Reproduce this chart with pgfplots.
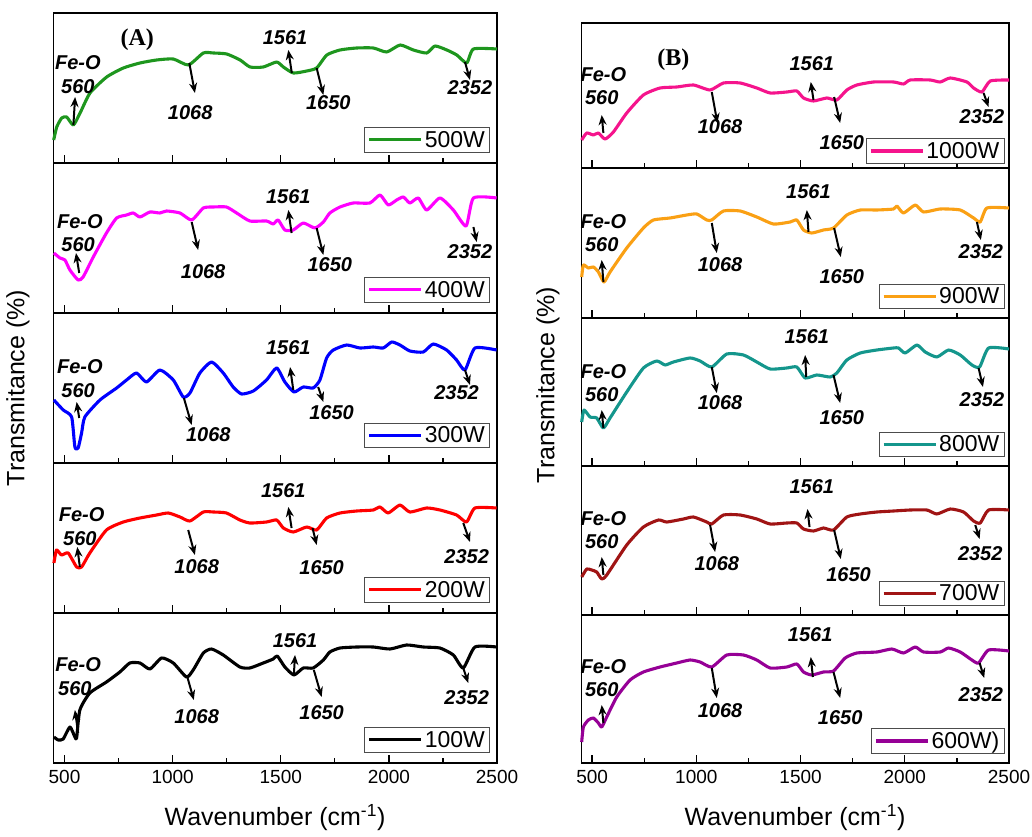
\documentclass[border=0pt]{standalone}
\usepackage{fontspec}
\setmainfont{Liberation Sans}
\newfontfamily\timesfont{Liberation Serif}
\usepackage{pgfplots}
\pgfplotsset{compat=1.18}
\usetikzlibrary{arrows.meta}
\definecolor{colA}{RGB}{30,150,30}
\definecolor{colB}{RGB}{255,0,255}
\definecolor{colC}{RGB}{0,0,255}
\definecolor{colD}{RGB}{255,0,0}
\definecolor{colE}{RGB}{245,20,140}
\definecolor{colF}{RGB}{250,160,20}
\definecolor{colG}{RGB}{20,150,140}
\definecolor{colH}{RGB}{160,20,20}
\definecolor{colI}{RGB}{150,0,150}
\newcommand\annot{\fontsize{20}{22}\selectfont\bfseries\itshape}
\newcommand\lab[3]{\node[font=\annot] at (axis cs:#1,#2) {#3};}
\newcommand\arr[4]{\draw[-{Stealth[length=10pt,width=8pt]}, line width=2pt] (axis cs:#1,#2) -- (axis cs:#3,#4);}
\pgfplotsset{
 panel/.style={scale only axis, anchor=south west, xmin=450, xmax=2500, ymin=0,
   ytick=\empty, xtick={500,1000,1500,2000,2500}, minor xtick={750,1250,1750,2250},
   xtick pos=left, tick align=inside, major tick length=8pt, minor tick length=5pt,
   axis line style={line width=1.4pt}, every tick/.append style={line width=1.3pt, black},
   xticklabels=\empty, clip=false,
   xticklabel style={font=\fontsize{19}{21}\selectfont, yshift=-4pt},
   legend style={font=\fontsize{23}{25}\selectfont, draw=black!70, line width=0.9pt, inner xsep=3pt, inner ysep=1.5pt},
   legend image code/.code={\draw[##1, line width=3.2pt] (0pt,0pt) -- (52pt,0pt);},
   every axis plot/.append style={line width=3.1pt, line join=round, smooth, tension=0.35}},
 lpanel/.style={panel, width=443.3pt, legend style={at={(0.985,0.07)}, anchor=south east}},
 rpanel/.style={panel, width=427.3pt, legend style={at={(0.99,0.06)}, anchor=south east}},
}
\begin{document}
\begin{tikzpicture}
\useasboundingbox (0,0) rectangle (1032pt,836pt);
% ---------------- left group ----------------
% 500W
\begin{axis}[lpanel, at={(53.7pt,673pt)}, height=150pt, ymax=150]
\addplot[color=colA] coordinates {(450,23)(464,36)(487,45)(510,46)(541,38)(572,50)(618,70)(695,86)(772,95)(849,100)(926,103)(1003,104)(1073,98)(1142,110)(1188,110)(1250,109)(1312,103)(1358,96)(1419,96)(1481,101)(1512,96)(1558,90)(1620,92)(1666,95)(1713,108)(1774,113)(1851,115)(1928,115)(1990,111)(2052,118)(2113,113)(2175,110)(2213,117)(2268,113)(2314,108)(2360,100)(2391,114)(2500,114)};
\addlegendentry{500W}
\node[font=\timesfont\fontsize{24}{26}\selectfont\bfseries] at (axis cs:836,123) {(A)};
\lab{562}{100}{Fe-O}\lab{562}{76}{560}\arr{541}{38}{549}{66}
\lab{1081}{50}{1068}\arr{1077}{100}{1103}{70}
\lab{1520}{125}{1561}\arr{1551}{90}{1535}{113}
\lab{1720}{60}{1650}\arr{1666}{95}{1697}{68}
\lab{2375}{75}{2352}\arr{2352}{101}{2375}{83}
\end{axis}
% 400W
\begin{axis}[lpanel, at={(53.7pt,523pt)}, height=150pt, ymax=150]
\addplot[color=colB] coordinates {(451,60)(479,55)(502,53)(525,43)(563,33)(586,36)(633,56)(694,80)(741,95)(787,98)(818,100)(849,96)(895,101)(941,100)(972,102)(1034,100)(1088,93)(1142,105)(1188,106)(1249,106)(1296,100)(1357,92)(1434,92)(1465,89)(1488,93)(1519,83)(1558,83)(1604,90)(1658,85)(1697,91)(1727,100)(1774,106)(1835,110)(1912,110)(1959,118)(1997,108)(2036,113)(2067,116)(2097,110)(2136,115)(2175,103)(2236,115)(2298,103)(2357,87)(2391,115)(2498,115)};
\addlegendentry{400W}
\lab{571}{91}{Fe-O}\lab{563}{68}{560}\arr{568}{40}{553}{60}
\lab{1141}{41}{1068}\arr{1088}{91}{1118}{63}
\lab{1535}{116}{1561}\arr{1550}{80}{1535}{103}
\lab{1727}{48}{1650}\arr{1666}{85}{1697}{58}
\lab{2375}{61}{2352}\arr{2391}{86}{2406}{71}
\end{axis}
% 300W
\begin{axis}[lpanel, at={(53.7pt,373pt)}, height=150pt, ymax=150, legend style={at={(0.985,0.1)}}]
\addplot[color=colC] coordinates {(451,63)(494,53)(533,46)(548,16)(563,15)(579,30)(594,46)(664,63)(741,75)(787,83)(833,90)(879,81)(941,93)(1003,83)(1049,66)(1080,70)(1126,90)(1180,101)(1234,90)(1280,76)(1319,69)(1373,72)(1434,83)(1481,95)(1519,81)(1561,71)(1604,76)(1650,75)(1681,83)(1712,105)(1743,113)(1805,118)(1866,115)(1928,116)(1974,115)(2013,121)(2051,118)(2097,112)(2159,111)(2205,119)(2267,113)(2313,103)(2352,93)(2398,115)(2498,113)};
\addlegendentry{300W}
\lab{571}{96}{Fe-O}\lab{563}{72}{560}\arr{568}{45}{556}{61}
\lab{1165}{28}{1068}\arr{1052}{65}{1088}{38}
\lab{1535}{115}{1561}\arr{1558}{73}{1543}{96}
\lab{1735}{50}{1650}\arr{1673}{76}{1697}{61}
\lab{2313}{70}{2352}\arr{2352}{93}{2375}{78}
\end{axis}
% 200W
\begin{axis}[lpanel, at={(53.7pt,223pt)}, height=150pt, ymax=150]
\addplot[color=colD] coordinates {(451,50)(463,63)(486,58)(517,60)(556,46)(579,46)(617,60)(694,83)(772,91)(849,95)(926,98)(980,100)(1034,96)(1080,92)(1142,101)(1188,101)(1249,100)(1311,93)(1357,90)(1434,91)(1481,93)(1512,85)(1558,81)(1620,86)(1666,83)(1712,95)(1774,100)(1851,102)(1928,103)(1959,106)(1997,100)(2051,108)(2097,101)(2175,105)(2236,103)(2313,98)(2359,91)(2398,105)(2498,105)};
\addlegendentry{200W}
\lab{579}{98}{Fe-O}\lab{571}{74}{560}\arr{571}{46}{559}{66}
\lab{1111}{46}{1068}\arr{1072}{83}{1103}{58}
\lab{1512}{122}{1561}\arr{1550}{85}{1535}{106}
\lab{1689}{45}{1650}\arr{1647}{85}{1666}{68}
\lab{2360}{56}{2352}\arr{2344}{90}{2375}{71}
\end{axis}
% 100W
\begin{axis}[lpanel, at={(53.7pt,73pt)}, height=150pt, ymax=150, xticklabels={500,1000,1500,2000,2500}]
\addplot[color=black] coordinates {(451,26)(471,23)(494,24)(525,36)(548,26)(556,25)(571,53)(617,70)(694,81)(756,91)(802,100)(849,100)(895,94)(949,105)(1003,100)(1064,86)(1095,93)(1142,110)(1180,114)(1234,108)(1311,96)(1357,95)(1419,100)(1465,104)(1484,107)(1519,96)(1561,88)(1604,95)(1650,95)(1697,103)(1727,111)(1774,115)(1851,116)(1928,116)(2005,114)(2082,118)(2159,116)(2236,115)(2298,108)(2344,95)(2398,116)(2498,116)};
\addlegendentry{100W}
\lab{563}{98}{Fe-O}\lab{548}{74}{560}\arr{563}{30}{548}{53}
\lab{1111}{46}{1068}\arr{1068}{86}{1098}{63}
\lab{1566}{122}{1561}\arr{1561}{90}{1566}{108}
\lab{1689}{50}{1650}\arr{1653}{93}{1689}{66}
\lab{2360}{65}{2352}\arr{2344}{95}{2367}{80}
\end{axis}
% ---------------- right group ----------------
% 1000W
\begin{axis}[rpanel, at={(581.7pt,668pt)}, height=145pt, ymax=145, legend style={at={(0.99,0.03)}}]
\addplot[color=colE] coordinates {(450,28)(474,35)(506,33)(530,35)(562,29)(602,36)(666,55)(746,73)(826,80)(906,81)(986,83)(1066,78)(1130,85)(1210,85)(1290,80)(1354,75)(1434,76)(1482,77)(1514,70)(1562,67)(1626,70)(1674,68)(1722,78)(1770,83)(1850,86)(1946,86)(1994,84)(2026,88)(2122,88)(2170,86)(2218,90)(2298,86)(2330,80)(2370,76)(2410,87)(2500,88)};
\addlegendentry{1000W}
\node[font=\timesfont\fontsize{24}{26}\selectfont\bfseries] at (axis cs:890,108) {(B)};
\lab{554}{93}{Fe-O}\lab{546}{70}{560}\arr{554}{35}{546}{53}
\lab{1114}{41}{1068}\arr{1074}{76}{1101}{45}
\lab{1554}{104}{1561}\arr{1562}{68}{1549}{86}
\lab{1698}{25}{1650}\arr{1661}{71}{1690}{45}
\lab{2370}{51}{2352}\arr{2378}{75}{2402}{61}
\end{axis}
% 900W
\begin{axis}[rpanel, at={(581.7pt,518pt)}, height=150pt, ymax=150]
\addplot[color=colF] coordinates {(450,41)(458,53)(482,50)(506,51)(530,46)(557,36)(586,46)(666,70)(746,90)(794,98)(874,100)(954,103)(1002,104)(1050,98)(1074,98)(1130,107)(1210,107)(1290,101)(1370,94)(1450,96)(1482,98)(1514,88)(1554,85)(1610,88)(1658,90)(1722,103)(1786,108)(1866,108)(1946,109)(1962,112)(1994,105)(2050,113)(2090,106)(2170,109)(2266,108)(2330,100)(2362,96)(2394,110)(2500,110)};
\addlegendentry{900W}
\lab{554}{96}{Fe-O}\lab{546}{73}{560}\arr{554}{36}{546}{58}
\lab{1114}{53}{1068}\arr{1074}{95}{1098}{65}
\lab{1538}{126}{1561}\arr{1538}{86}{1530}{108}
\lab{1698}{41}{1650}\arr{1661}{90}{1693}{61}
\lab{2365}{66}{2352}\arr{2346}{96}{2365}{78}
\end{axis}
% 800W
\begin{axis}[rpanel, at={(581.7pt,370pt)}, height=148pt, ymax=148]
\addplot[color=colG] coordinates {(450,44)(461,56)(490,49)(522,48)(554,38)(586,48)(666,74)(746,98)(810,105)(850,101)(890,104)(970,108)(1018,105)(1074,99)(1146,112)(1226,111)(1290,104)(1354,97)(1434,98)(1482,99)(1522,88)(1578,91)(1642,89)(1674,93)(1722,106)(1786,113)(1866,116)(1946,118)(1970,118)(2002,113)(2058,121)(2098,114)(2154,109)(2210,116)(2266,111)(2322,101)(2359,99)(2402,118)(2500,117)};
\addlegendentry{800W}
\lab{554}{94}{Fe-O}\lab{546}{71}{560}\arr{554}{38}{546}{56}
\lab{1114}{63}{1068}\arr{1074}{99}{1098}{73}
\lab{1530}{129}{1561}\arr{1527}{89}{1522}{111}
\lab{1698}{48}{1650}\arr{1658}{91}{1690}{63}
\lab{2370}{66}{2352}\arr{2354}{98}{2375}{79}
\end{axis}
% 700W
\begin{axis}[rpanel, at={(581.7pt,221pt)}, height=149pt, ymax=149]
\addplot[color=colH] coordinates {(450,38)(474,46)(498,45)(522,43)(546,36)(570,40)(666,70)(746,88)(818,95)(858,93)(938,96)(986,98)(1050,93)(1074,91)(1130,100)(1210,100)(1290,96)(1354,91)(1434,92)(1482,92)(1514,86)(1562,84)(1610,87)(1658,85)(1722,98)(1786,101)(1866,103)(1946,104)(2026,105)(2106,105)(2154,101)(2218,106)(2282,103)(2330,94)(2362,92)(2402,105)(2500,105)};
\addlegendentry{700W}
\lab{554}{96}{Fe-O}\lab{546}{73}{560}\arr{554}{40}{546}{58}
\lab{1098}{51}{1068}\arr{1066}{90}{1090}{63}
\lab{1554}{128}{1561}\arr{1543}{88}{1533}{106}
\lab{1730}{40}{1650}\arr{1661}{85}{1693}{56}
\lab{2362}{61}{2352}\arr{2338}{90}{2359}{76}
\end{axis}
% 600W
\begin{axis}[rpanel, at={(581.7pt,73pt)}, height=148pt, ymax=148, xticklabels={500,1000,1500,2000,2500}]
\addplot[color=colI] coordinates {(450,21)(458,36)(482,43)(506,45)(530,40)(546,36)(570,46)(618,66)(682,83)(746,91)(826,96)(906,100)(970,103)(1018,101)(1074,96)(1146,108)(1226,108)(1290,103)(1354,95)(1434,96)(1482,99)(1514,91)(1554,88)(1610,91)(1658,92)(1714,105)(1770,110)(1866,111)(1938,114)(1994,110)(2050,116)(2090,111)(2170,111)(2210,115)(2266,111)(2322,103)(2354,100)(2402,113)(2500,112)};
\addlegendentry{600W)}
\lab{554}{96}{Fe-O}\lab{546}{73}{560}\arr{554}{40}{546}{58}
\lab{1114}{52}{1068}\arr{1074}{95}{1098}{65}
\lab{1546}{128}{1561}\arr{1559}{86}{1549}{106}
\lab{1690}{45}{1650}\arr{1658}{91}{1690}{65}
\lab{2365}{68}{2352}\arr{2359}{100}{2381}{85}
\end{axis}
% axis titles
\node[font=\fontsize{25}{27}\selectfont] at (275pt,18pt) {Wavenumber (cm\textsuperscript{-1})};
\node[font=\fontsize{25}{27}\selectfont] at (795pt,18pt) {Wavenumber (cm\textsuperscript{-1})};
\node[font=\fontsize{25}{27}\selectfont, rotate=90] at (18pt,448pt) {Transmitance (\%)};
\node[font=\fontsize{25}{27}\selectfont, rotate=90] at (548pt,451pt) {Transmitance (\%)};
\end{tikzpicture}
\end{document}
